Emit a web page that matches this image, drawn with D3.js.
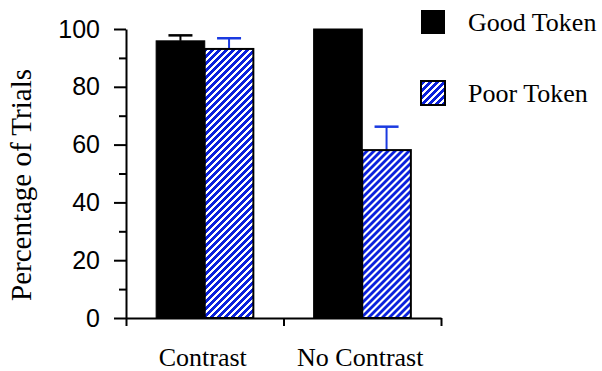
<!DOCTYPE html>
<html>
<head>
<meta charset="utf-8">
<script src="https://cdn.jsdelivr.net/npm/d3@7"></script>
<style>
  body { margin: 0; background: #fff; }
  svg { display: block; }
</style>
</head>
<body>
<div id="chart"></div>
<script>
// data
const categories = ["Contrast", "No Contrast"];
const series = ["Good Token", "Poor Token"];
const goodValues = [95.9, 100];
const poorValues = [93.1, 58.1];
const goodErrors = [1.9, 0];
const poorErrors = [3.7, 8.1];
const yTicks = [0, 20, 40, 60, 80, 100];
const yMinorTicks = [10, 30, 50, 70, 90];

const W = 602, H = 371;
const plot = { left: 126, right: 441, top: 29, bottom: 318 };

const svg = d3.select("#chart").append("svg")
  .attr("width", W)
  .attr("height", H);

// hatch pattern for the poor token bars
const defs = svg.append("defs");
const pat = defs.append("pattern")
  .attr("id", "hatch")
  .attr("patternUnits", "userSpaceOnUse")
  .attr("width", 7)
  .attr("height", 7);
pat.append("rect").attr("width", 7).attr("height", 7).attr("fill", "#0a20dc");
pat.append("path")
  .attr("d", "M-1,8 L8,-1 M-2,2 L2,-2 M5,9 L9,5")
  .attr("stroke", "#fff")
  .attr("stroke-width", 1.7)
  .attr("shape-rendering", "crispEdges");

// scales
const y = d3.scaleLinear().domain([0, 100]).range([plot.bottom, plot.top]);
const x0 = d3.scaleBand().domain(categories).range([plot.left, plot.right]).paddingInner(0);
const x1 = d3.scaleBand().domain(series).range([0, x0.bandwidth()]).paddingOuter(0.62).paddingInner(0);
const xEdge = d3.scaleLinear().domain([0, categories.length]).range([plot.left, plot.right]);

const rows = categories.map((c, i) => ({
  cat: c,
  vals: [
    { s: series[0], v: goodValues[i], e: goodErrors[i] },
    { s: series[1], v: poorValues[i], e: poorErrors[i] }
  ]
}));

// bars
const groups = svg.append("g").selectAll("g")
  .data(rows)
  .join("g")
  .attr("transform", d => `translate(${x0(d.cat)},0)`);

// error bars (upper half only, drawn behind the bars)
groups.selectAll(".err")
  .data(d => d.vals.filter(v => v.e > 0))
  .join("g")
  .attr("class", "err")
  .each(function(d) {
    const g = d3.select(this);
    const cx = x1(d.s) + x1.bandwidth() / 2;
    const col = d.s === series[0] ? "#000" : "#1a3ae0";
    g.append("line")
      .attr("x1", cx).attr("x2", cx)
      .attr("y1", y(d.v)).attr("y2", y(d.v + d.e))
      .attr("stroke", col).attr("stroke-width", 2);
    g.append("line")
      .attr("x1", cx - 12).attr("x2", cx + 12)
      .attr("y1", y(d.v + d.e)).attr("y2", y(d.v + d.e))
      .attr("stroke", col).attr("stroke-width", 2.5);
  });

groups.selectAll("rect")
  .data(d => d.vals)
  .join("rect")
  .attr("x", d => x1(d.s))
  .attr("y", d => y(d.v))
  .attr("width", x1.bandwidth())
  .attr("height", d => y(0) - y(d.v))
  .attr("fill", d => d.s === series[0] ? "#000" : "url(#hatch)")
  .attr("stroke", "#000")
  .attr("stroke-width", d => d.s === series[0] ? 1 : 2);

// y axis
const yAxisG = svg.append("g")
  .attr("transform", `translate(${plot.left},0)`)
  .call(d3.axisLeft(y).tickValues(yTicks).tickSize(12).tickPadding(14).tickSizeOuter(0));
svg.append("g")
  .attr("transform", `translate(${plot.left},0)`)
  .call(d3.axisLeft(y).tickValues(yMinorTicks).tickSize(7).tickFormat("").tickSizeOuter(0))
  .select(".domain").remove();
yAxisG.selectAll("text")
  .attr("font-family", "'Liberation Sans', Arial, sans-serif")
  .attr("font-size", 25)
  .attr("fill", "#000");

// x axis
const xAxisG = svg.append("g")
  .attr("transform", `translate(0,${plot.bottom})`)
  .call(d3.axisBottom(xEdge).tickValues([0, 1, 2]).tickSize(8).tickFormat("").tickSizeOuter(0));

svg.selectAll(".domain, .tick line")
  .attr("stroke", "#000")
  .attr("stroke-width", 2);

svg.append("g").selectAll("text")
  .data(categories)
  .join("text")
  .attr("x", d => x0(d) + x0.bandwidth() / 2 - 2)
  .attr("y", 366)
  .attr("text-anchor", "middle")
  .attr("font-family", "'Liberation Serif', 'Times New Roman', serif")
  .attr("font-size", 26)
  .text(d => d);

// y label
svg.append("text")
  .attr("transform", "translate(31,185) rotate(-90)")
  .attr("text-anchor", "middle")
  .attr("font-family", "'Liberation Serif', 'Times New Roman', serif")
  .attr("font-size", 29)
  .text("Percentage of Trials");

// legend
const legend = svg.append("g").selectAll("g")
  .data(series)
  .join("g")
  .attr("transform", (d, i) => `translate(421,${10 + i * 71})`);
legend.append("rect")
  .attr("width", 24)
  .attr("height", 24)
  .attr("fill", (d, i) => i === 0 ? "#000" : "url(#hatch)")
  .attr("stroke", "#000")
  .attr("stroke-width", (d, i) => i === 0 ? 0 : 2);
legend.append("text")
  .attr("x", 47)
  .attr("y", 21)
  .attr("font-family", "'Liberation Serif', 'Times New Roman', serif")
  .attr("font-size", 26)
  .text(d => d);
</script>
</body>
</html>
